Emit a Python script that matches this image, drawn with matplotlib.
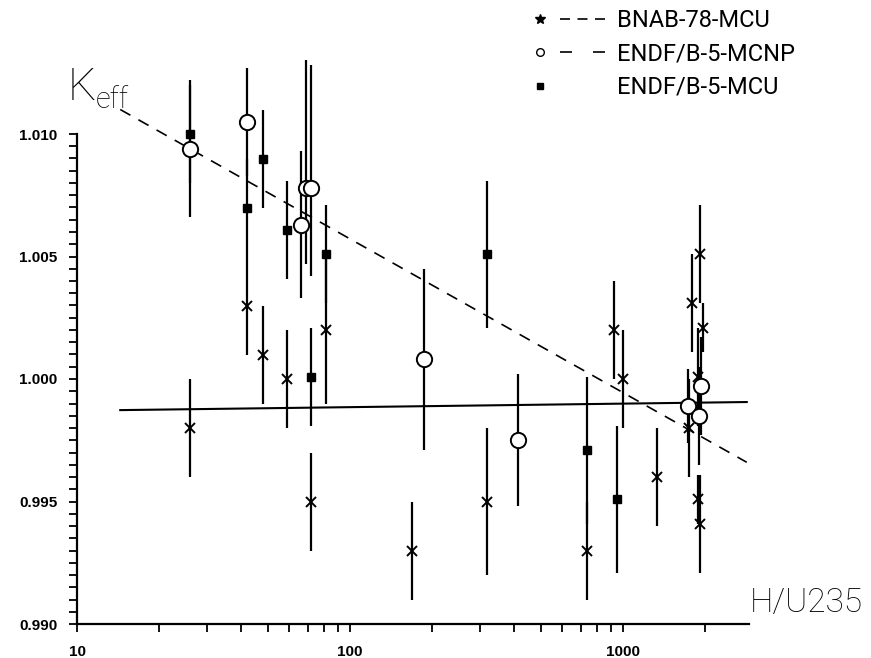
import matplotlib
matplotlib.use("Agg")
import matplotlib.pyplot as plt
from matplotlib.lines import Line2D
from matplotlib.legend_handler import HandlerBase
from matplotlib.ticker import FixedLocator, FormatStrFormatter, MultipleLocator, NullFormatter

# ---- data -------------------------------------------------------------
# BNAB-78-MCU results
bnab_h = [26, 42, 48, 59, 72, 82, 169, 318, 740, 927, 1000, 1334,
          1745, 1789, 1883, 1883, 1914, 1914, 1963]
bnab_k = [0.9980, 1.0030, 1.0010, 1.0000, 0.9950, 1.0020, 0.9930, 0.9950,
          0.9930, 1.0020, 1.0000, 0.9960, 0.9980, 1.0031, 1.0001, 0.9951,
          1.0051, 0.9941, 1.0021]
bnab_err = [0.002, 0.002, 0.002, 0.002, 0.002, 0.003, 0.002, 0.003, 0.002,
            0.002, 0.002, 0.002, 0.002, 0.002, 0.002, 0.001, 0.002, 0.002,
            0.001]

# ENDF/B-5-MCNP results
mcnp_h = [26, 42, 66, 69, 72, 187, 412, 1730, 1897, 1931]
mcnp_k = [1.0094, 1.0105, 1.0063, 1.0078, 1.0078, 1.0008, 0.9975, 0.9989,
          0.9985, 0.9997]
mcnp_err_lo = [0.0028, 0.0022, 0.0030, 0.0031, 0.0036, 0.0037, 0.0027,
               0.0015, 0.0020, 0.0020]
mcnp_err_hi = [0.0028, 0.0022, 0.0030, 0.0052, 0.0050, 0.0037, 0.0027,
               0.0015, 0.0020, 0.0020]

# ENDF/B-5-MCU results
mcu_h = [26, 42, 48, 59, 72, 82, 318, 738, 951]
mcu_k = [1.0100, 1.0070, 1.0090, 1.0061, 1.0001, 1.0051, 1.0051, 0.9971,
         0.9951]
mcu_err = [0.002, 0.002, 0.002, 0.002, 0.002, 0.002, 0.003, 0.003, 0.003]

# fitted trend lines
fit_h = [14.4, 2840]
fit_flat = [0.99873, 0.99906]
fit_slope = [1.0110, 0.9966]

y_ticks = [0.990, 0.995, 1.000, 1.005, 1.010]
x_ticks = [10, 100, 1000]
x_tick_labels = ["10", "100", "1000"]

legend_labels = ["BNAB-78-MCU", "ENDF/B-5-MCNP", "ENDF/B-5-MCU"]

# ---- figure -----------------------------------------------------------
W, H = 871, 658
fig = plt.figure(figsize=(W / 100, H / 100), dpi=100)
ax = fig.add_axes([77 / W, (H - 624) / H, (749 - 77) / W, (624 - 134) / H])

ax.set_xscale("log")
ax.set_xlim(10, 2894)
ax.set_ylim(0.990, 1.010)

ebar_kw = dict(ecolor="black", elinewidth=1.6, capsize=0, ls="none",
               clip_on=False, zorder=3)

ax.errorbar(bnab_h, bnab_k, yerr=bnab_err, marker="x", ms=7, mew=1.4,
            mec="black", **ebar_kw)
ax.errorbar(mcnp_h, mcnp_k, yerr=[mcnp_err_lo, mcnp_err_hi], marker="o",
            ms=11, mew=1.4, mec="black", mfc="white", **ebar_kw)
ax.errorbar(mcu_h, mcu_k, yerr=mcu_err, marker="s", ms=6, mew=1,
            mec="black", mfc="black", **ebar_kw)

ax.plot(fit_h, fit_flat, color="black", lw=1.5, clip_on=False, zorder=2)
ax.plot(fit_h, fit_slope, color="black", lw=1.2, dashes=(7, 5.5),
        clip_on=False, zorder=2)

# ---- axes styling -----------------------------------------------------
for side in ("top", "right"):
    ax.spines[side].set_visible(False)
for side in ("left", "bottom"):
    ax.spines[side].set_linewidth(1.6)

ax.yaxis.set_major_locator(FixedLocator(y_ticks))
ax.yaxis.set_minor_locator(MultipleLocator(0.0005))
ax.yaxis.set_major_formatter(FormatStrFormatter("%.3f"))
ax.xaxis.set_major_locator(FixedLocator(x_ticks))
ax.set_xticklabels(x_tick_labels)
ax.xaxis.set_minor_locator(FixedLocator(
    [m * d for d in (10, 100, 1000) for m in range(2, 10) if m * d < 2894]))
ax.xaxis.set_minor_formatter(NullFormatter())

ax.tick_params(axis="both", which="both", direction="out", width=1.3,
               color="black")
ax.tick_params(axis="y", which="major", length=6, pad=8)
ax.tick_params(axis="y", which="minor", length=6)
ax.tick_params(axis="x", which="major", length=6, pad=9)
ax.tick_params(axis="x", which="minor", length=6)

for lab in ax.get_xticklabels() + ax.get_yticklabels():
    lab.set_fontfamily("Liberation Sans")
    lab.set_fontweight("bold")
    lab.set_fontsize(11)

# ---- axis titles ------------------------------------------------------
title_font = dict(family="Roboto", weight="light", color="black")
fig.text(68 / W, 1 - 100 / H, "K", fontsize=32, va="baseline", ha="left",
         **title_font)
fig.text(96 / W, 1 - 108 / H, "eff", fontsize=21, va="baseline", ha="left",
         **title_font)
fig.text(750 / W, 1 - 612 / H, "H/U235", fontsize=24, va="baseline",
         ha="left", **title_font)


# ---- legend -----------------------------------------------------------
class LegendKey:
    def __init__(self, marker, ms, mfc, dashes):
        self.marker = marker
        self.ms = ms
        self.mfc = mfc
        self.dashes = dashes


class KeyHandler(HandlerBase):
    def create_artists(self, legend, orig_handle, xdescent, ydescent,
                       width, height, fontsize, trans):
        yc = (height - ydescent) / 2
        x0 = -xdescent
        mk = Line2D([x0 + 0.1 * width], [yc], marker=orig_handle.marker,
                    ms=orig_handle.ms, mfc=orig_handle.mfc, mec="black",
                    mew=1.0, ls="none")
        artists = [mk]
        if orig_handle.dashes is not None:
            ln = Line2D([x0 + 0.38 * width, x0 + width], [yc, yc],
                        color="black", lw=1.2, dashes=orig_handle.dashes)
            artists.append(ln)
        for a in artists:
            a.set_transform(trans)
        return artists


keys = [LegendKey("*", 7, "black", (6, 4.5)),
        LegendKey("o", 5.5, "white", (7.2, 12.6)),
        LegendKey("s", 5, "black", None)]

fig.legend(keys, legend_labels, handler_map={LegendKey: KeyHandler()},
           loc="upper left", bbox_to_anchor=(533 / W, 1 - 9 / H),
           frameon=False, borderpad=0, borderaxespad=0,
           handlelength=3.05, handletextpad=0.52, labelspacing=0.44,
           prop=dict(family="Roboto", weight="normal", size=17))

fig.savefig("out.png", dpi=100)
